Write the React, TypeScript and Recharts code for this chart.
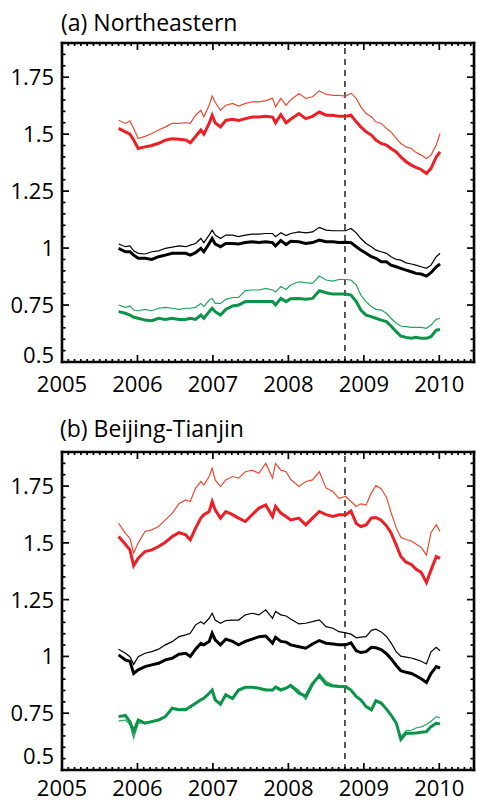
import React from "react"
import { LineChart, Line, XAxis, YAxis, ReferenceLine } from "recharts"

// Two stacked panels: ratio series (thin / thick) for three groups, 2005.75 - 2010.

const years = [
  2005.75, 2005.84, 2005.9, 2005.95, 2006.01, 2006.1, 2006.19, 2006.28, 2006.37, 2006.46,
  2006.55, 2006.64, 2006.7, 2006.77, 2006.84, 2006.88, 2006.95, 2006.99, 2007.03, 2007.1,
  2007.17, 2007.26, 2007.34, 2007.43, 2007.52, 2007.61, 2007.7, 2007.79, 2007.83, 2007.9,
  2007.97, 2008.03, 2008.14, 2008.23, 2008.32, 2008.41, 2008.5, 2008.59, 2008.67, 2008.76,
  2008.83, 2008.9, 2008.96, 2009.03, 2009.1, 2009.16, 2009.23, 2009.3, 2009.36, 2009.43,
  2009.49, 2009.56, 2009.63, 2009.69, 2009.76, 2009.83, 2009.89, 2009.96, 2010.01,
]

// (a) Northeastern
const neRedThin = [1.561,1.547,1.558,1.525,1.481,1.49,1.503,1.518,1.532,1.547,1.547,1.55,1.547,1.583,1.605,1.576,1.627,1.667,1.64,1.605,1.627,1.635,1.623,1.635,1.642,1.642,1.647,1.657,1.62,1.657,1.627,1.65,1.678,1.657,1.664,1.69,1.675,1.67,1.67,1.667,1.68,1.657,1.62,1.59,1.576,1.554,1.547,1.525,1.51,1.481,1.459,1.444,1.437,1.42,1.408,1.393,1.408,1.452,1.503]
const neRedThick = [1.525,1.51,1.5,1.474,1.437,1.444,1.45,1.46,1.474,1.48,1.478,1.474,1.462,1.49,1.518,1.5,1.547,1.583,1.55,1.532,1.56,1.565,1.56,1.568,1.575,1.575,1.578,1.575,1.55,1.585,1.55,1.565,1.59,1.568,1.578,1.597,1.583,1.583,1.578,1.578,1.583,1.554,1.532,1.51,1.496,1.474,1.459,1.452,1.437,1.422,1.4,1.379,1.364,1.354,1.345,1.327,1.35,1.4,1.422]
const neBlackThin = [1.018,1.006,1.01,0.988,0.977,0.974,0.984,0.988,0.999,1.004,1.01,1.006,1.013,1.02,1.042,1.024,1.057,1.079,1.057,1.042,1.057,1.057,1.05,1.057,1.061,1.061,1.064,1.064,1.05,1.067,1.055,1.064,1.071,1.067,1.071,1.091,1.079,1.076,1.076,1.076,1.086,1.067,1.042,1.02,1.006,0.991,0.984,0.977,0.962,0.95,0.947,0.935,0.93,0.925,0.918,0.911,0.925,0.962,0.977]
const neBlackThick = [0.999,0.984,0.984,0.969,0.955,0.955,0.95,0.962,0.969,0.977,0.977,0.977,0.969,0.98,0.999,0.984,1.02,1.042,1.018,1.006,1.02,1.02,1.018,1.024,1.028,1.024,1.028,1.024,1.01,1.033,1.015,1.03,1.028,1.02,1.024,1.035,1.028,1.028,1.024,1.025,1.024,1.006,0.991,0.977,0.962,0.955,0.94,0.94,0.925,0.918,0.911,0.903,0.896,0.889,0.886,0.877,0.892,0.918,0.93]
const neGreenThin = [0.75,0.74,0.746,0.728,0.725,0.731,0.725,0.736,0.74,0.736,0.731,0.736,0.736,0.74,0.757,0.743,0.772,0.779,0.757,0.757,0.775,0.783,0.783,0.813,0.816,0.816,0.823,0.816,0.808,0.831,0.818,0.838,0.852,0.848,0.845,0.877,0.86,0.855,0.862,0.862,0.86,0.838,0.794,0.765,0.743,0.731,0.728,0.714,0.692,0.67,0.658,0.655,0.652,0.652,0.652,0.648,0.662,0.687,0.692]
const neGreenThick = [0.721,0.714,0.706,0.696,0.692,0.684,0.681,0.692,0.687,0.692,0.687,0.687,0.692,0.687,0.706,0.692,0.721,0.736,0.721,0.706,0.731,0.746,0.75,0.765,0.765,0.765,0.765,0.765,0.75,0.779,0.765,0.778,0.779,0.775,0.779,0.813,0.804,0.798,0.798,0.798,0.794,0.765,0.728,0.706,0.699,0.692,0.684,0.677,0.658,0.633,0.614,0.608,0.604,0.608,0.604,0.604,0.611,0.64,0.643]

// (b) Beijing-Tianjin
const btRedThin = [1.587,1.542,1.52,1.455,1.5,1.55,1.557,1.572,1.601,1.63,1.672,1.689,1.682,1.741,1.77,1.755,1.792,1.828,1.777,1.748,1.777,1.792,1.785,1.813,1.82,1.806,1.851,1.785,1.85,1.82,1.813,1.78,1.748,1.77,1.777,1.813,1.741,1.726,1.696,1.704,1.682,1.66,1.672,1.667,1.72,1.752,1.738,1.7,1.635,1.565,1.525,1.515,1.508,1.495,1.48,1.447,1.545,1.58,1.55]
const btRedThick = [1.528,1.494,1.469,1.4,1.432,1.462,1.469,1.484,1.503,1.528,1.545,1.535,1.513,1.565,1.609,1.624,1.638,1.682,1.645,1.609,1.638,1.624,1.609,1.594,1.624,1.653,1.667,1.616,1.66,1.631,1.616,1.601,1.609,1.579,1.609,1.638,1.624,1.616,1.624,1.624,1.64,1.585,1.572,1.579,1.61,1.612,1.6,1.575,1.545,1.49,1.44,1.415,1.405,1.385,1.37,1.325,1.38,1.44,1.432]
const btBlackThin = [1.032,1.014,0.999,0.965,0.999,1.014,1.021,1.032,1.051,1.065,1.087,1.095,1.102,1.139,1.153,1.143,1.168,1.19,1.16,1.146,1.158,1.16,1.16,1.183,1.19,1.183,1.205,1.168,1.198,1.183,1.178,1.165,1.143,1.146,1.153,1.161,1.131,1.124,1.109,1.104,1.098,1.082,1.085,1.087,1.115,1.12,1.108,1.088,1.06,1.02,1.001,0.997,0.993,0.987,0.979,0.967,1.02,1.04,1.025]
const btBlackThick = [1.007,0.985,0.978,0.925,0.941,0.955,0.963,0.97,0.985,0.992,1.01,1.014,1.0,1.032,1.058,1.051,1.066,1.102,1.073,1.051,1.076,1.066,1.051,1.066,1.076,1.087,1.09,1.058,1.084,1.066,1.063,1.051,1.043,1.036,1.055,1.07,1.058,1.055,1.051,1.051,1.06,1.025,1.017,1.021,1.04,1.038,1.03,1.012,0.99,0.96,0.937,0.93,0.925,0.915,0.902,0.885,0.925,0.955,0.948]
const btGreenThin = [0.715,0.72,0.7,0.64,0.705,0.71,0.715,0.722,0.738,0.768,0.768,0.77,0.775,0.79,0.812,0.82,0.835,0.855,0.812,0.795,0.828,0.82,0.855,0.862,0.866,0.858,0.855,0.85,0.87,0.858,0.862,0.878,0.85,0.81,0.87,0.925,0.89,0.875,0.872,0.87,0.855,0.826,0.812,0.782,0.768,0.8,0.79,0.77,0.745,0.7,0.645,0.672,0.675,0.685,0.69,0.7,0.715,0.735,0.73]
const btGreenThick = [0.735,0.74,0.713,0.669,0.72,0.706,0.713,0.72,0.735,0.772,0.765,0.765,0.779,0.794,0.809,0.816,0.838,0.852,0.809,0.79,0.831,0.815,0.852,0.864,0.864,0.86,0.852,0.852,0.865,0.852,0.86,0.872,0.838,0.825,0.88,0.915,0.878,0.87,0.868,0.867,0.852,0.823,0.809,0.779,0.765,0.805,0.795,0.768,0.742,0.706,0.635,0.662,0.662,0.663,0.666,0.669,0.691,0.706,0.703]

const yearLabels = [2005, 2006, 2007, 2008, 2009, 2010]
const valueLabels = [0.5, 0.75, 1, 1.25, 1.5, 1.75]
const markerYear = 2008.75

const X_DOMAIN: [number, number] = [2005, 2010.46]
const Y_DOMAIN: [number, number] = [0.5, 1.9]
// monthly minor ticks on x, 0.05 on y
const xTicks = Array.from({ length: 66 }, (_, k) => 2005 + k / 12)
const yTicks = Array.from({ length: 29 }, (_, k) => Math.round((0.5 + k * 0.05) * 100) / 100)

const FONT = "'Open Sans', 'Liberation Sans', sans-serif"
const RED_THIN = "#f04a33"
const RED = "#ec1f25"
const GREEN_THIN = "#1fa55a"
const GREEN = "#0a9447"

const CHART_W = 477
const MARGIN_R = 3
const Y_AXIS_W = 62
const PLOT_W = CHART_W - MARGIN_R - Y_AXIS_W

const isMajor = (v: number, list: number[]) => list.some((m) => Math.abs(m - v) < 1e-6)

function makeBottomLabel(labelDy: number) {
  return function BottomLabel({ x, y, payload }: any) {
    if (!isMajor(payload.value, yearLabels)) return <g />
    return (
      <text x={x} y={y + labelDy} textAnchor="middle" fontSize={22} fontFamily={FONT} fill="#000">
        {payload.value}
      </text>
    )
  }
}

function makeLeftLabel(lowShift: number) {
  return function LeftLabel({ x, y, payload }: any) {
    const v = payload.value
    if (!isMajor(v, valueLabels)) return <g />
    const shift = Math.abs(v - Y_DOMAIN[0]) < 1e-6 ? -lowShift : 0
    return (
      <text x={x - 8} y={y + shift} dy="0.36em" textAnchor="end" fontSize={22} fontFamily={FONT} fill="#000">
        {String(v)}
      </text>
    )
  }
}

type Series = {
  redThin: number[]
  redThick: number[]
  blackThin: number[]
  blackThick: number[]
  greenThin: number[]
  greenThick: number[]
}

type PanelProps = { s: Series; height: number; marginTop: number; axisHeight: number; lowShift: number; labelDy: number }

function Panel({ s, height, marginTop, axisHeight, lowShift, labelDy }: PanelProps) {
  const rows = years.map((t, i) => ({
    t,
    redThin: s.redThin[i],
    redThick: s.redThick[i],
    blackThin: s.blackThin[i],
    blackThick: s.blackThick[i],
    greenThin: s.greenThin[i],
    greenThick: s.greenThick[i],
  }))
  const plotH = height - marginTop - axisHeight
  // pixel -> data-unit factors, so inward tick lengths are given in px
  const dyPx = (Y_DOMAIN[1] - Y_DOMAIN[0]) / plotH
  const dxPx = (X_DOMAIN[1] - X_DOMAIN[0]) / PLOT_W
  const [x0, x1] = X_DOMAIN
  const [y0, y1] = Y_DOMAIN
  const LeftLabel = makeLeftLabel(lowShift)
  const BottomLabel = makeBottomLabel(labelDy)
  const axisIds = { xAxisId: "b", yAxisId: "l" }
  const tickStyle = { stroke: "#000", strokeWidth: 1.7 }
  const frameStyle = { stroke: "#000", strokeWidth: 2.6, strokeLinecap: "square" as const }

  const line = (key: string, color: string, w: number) => (
    <Line key={key} {...axisIds} type="linear" dataKey={key} stroke={color} strokeWidth={w}
      dot={false} activeDot={false} isAnimationActive={false} />
  )

  const xTickMarks = xTicks.flatMap((t, i) => {
    const len = isMajor(t, yearLabels) ? 7 : 3
    return [
      <ReferenceLine key={`xb${i}`} {...axisIds} {...tickStyle} segment={[{ x: t, y: y0 }, { x: t, y: y0 + len * dyPx }]} />,
      <ReferenceLine key={`xt${i}`} {...axisIds} {...tickStyle} segment={[{ x: t, y: y1 }, { x: t, y: y1 - len * dyPx }]} />,
    ]
  })
  const yTickMarks = yTicks.flatMap((v, i) => {
    const len = isMajor(v, valueLabels) ? 7 : 3.5
    return [
      <ReferenceLine key={`yl${i}`} {...axisIds} {...tickStyle} segment={[{ x: x0, y: v }, { x: x0 + len * dxPx, y: v }]} />,
      <ReferenceLine key={`yr${i}`} {...axisIds} {...tickStyle} segment={[{ x: x1, y: v }, { x: x1 - len * dxPx, y: v }]} />,
    ]
  })

  return (
    <LineChart width={CHART_W} height={height} data={rows} margin={{ top: marginTop, right: MARGIN_R, bottom: 0, left: 0 }}>
      <XAxis xAxisId="b" dataKey="t" type="number" domain={X_DOMAIN} allowDataOverflow ticks={xTicks} interval={0}
        height={axisHeight} tickSize={0} tickMargin={0} tickLine={false} axisLine={false} tick={<BottomLabel />} />
      <YAxis yAxisId="l" type="number" domain={Y_DOMAIN} allowDataOverflow ticks={yTicks} interval={0}
        width={Y_AXIS_W} tickSize={0} tickMargin={0} tickLine={false} axisLine={false} tick={<LeftLabel />} />
      {xTickMarks}
      {yTickMarks}
      <ReferenceLine {...axisIds} x={x0} {...frameStyle} />
      <ReferenceLine {...axisIds} x={x1} {...frameStyle} />
      <ReferenceLine {...axisIds} y={y0} {...frameStyle} />
      <ReferenceLine {...axisIds} y={y1} {...frameStyle} />
      <ReferenceLine {...axisIds} x={markerYear} stroke="#000" strokeWidth={1.3} strokeDasharray="6 5" />
      {line("redThin", RED_THIN, 1.2)}
      {line("redThick", RED, 3)}
      {line("blackThin", "#000", 1.2)}
      {line("blackThick", "#000", 3)}
      {line("greenThin", GREEN_THIN, 1.2)}
      {line("greenThick", GREEN, 3)}
    </LineChart>
  )
}

export default function App() {
  const ne: Series = {
    redThin: neRedThin, redThick: neRedThick,
    blackThin: neBlackThin, blackThick: neBlackThick,
    greenThin: neGreenThin, greenThick: neGreenThick,
  }
  const bt: Series = {
    redThin: btRedThin, redThick: btRedThick,
    blackThin: btBlackThin, blackThick: btBlackThick,
    greenThin: btGreenThin, greenThick: btGreenThick,
  }
  return (
    <div style={{ position: "absolute", left: 0, top: 0, width: 477, height: 802, background: "#fff" }}>
      <div style={{ position: "absolute", left: 0, top: 0 }}>
        <Panel s={ne} height={400} marginTop={43} axisHeight={38} lowShift={7} labelDy={30} />
      </div>
      <div style={{ position: "absolute", left: 0, top: 408 }}>
        <Panel s={bt} height={394} marginTop={44} axisHeight={32} lowShift={14} labelDy={26} />
      </div>
      <svg width={477} height={802} style={{ position: "absolute", left: 0, top: 0, pointerEvents: "none" }}>
        <text x={61} y={31} fontSize={23} fontFamily={FONT} fill="#000">(a) Northeastern</text>
        <text x={60} y={437} fontSize={23} fontFamily={FONT} fill="#000">(b) Beijing-Tianjin</text>
      </svg>
    </div>
  )
}
